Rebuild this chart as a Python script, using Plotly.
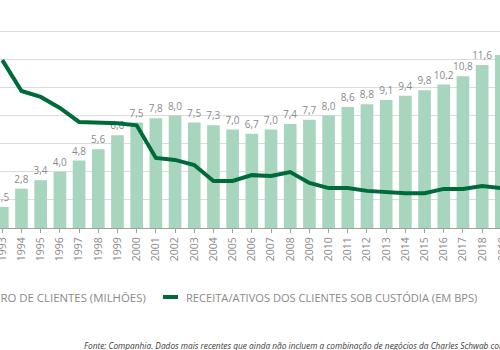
import plotly.graph_objects as go

years = list(range(1993, 2020))
clientes = [1.5, 2.8, 3.4, 4.0, 4.8, 5.6, 6.6, 7.5, 7.8, 8.0, 7.5, 7.3, 7.0, 6.7,
            7.0, 7.4, 7.7, 8.0, 8.6, 8.8, 9.1, 9.4, 9.8, 10.2, 10.8, 11.6, 12.3]
receita_bps = [59.7, 48.7, 46.6, 42.7, 37.7, 37.5, 37.2, 36.5, 24.9, 24.2, 22.4, 16.7,
               16.7, 18.8, 18.5, 19.9, 16.0, 14.2, 14.2, 13.2, 12.8, 12.4, 12.4, 13.9,
               13.9, 14.9, 14.2]
bar_labels = [f"{v:.1f}".replace(".", ",") for v in clientes]

BAR_COLOR = "#a8d5bd"
LINE_COLOR = "#006b3a"
GRAY = "#8a8a8a"

x_range = [1992.88, 2018.93]

fig = go.Figure()
fig.add_trace(go.Bar(
    x=years, y=clientes, name="NÚMERO DE CLIENTES (MILHÕES)",
    marker=dict(color=BAR_COLOR, line=dict(width=0)),
    width=0.66, text=bar_labels, textposition="outside",
    textfont=dict(family="Open Sans", size=10, color=GRAY),
    constraintext="none",
    cliponaxis=False,
))
fig.add_trace(go.Scatter(
    x=years, y=receita_bps, name="RECEITA/ATIVOS DOS CLIENTES SOB CUSTÓDIA (EM BPS)",
    mode="lines", line=dict(color=LINE_COLOR, width=4), yaxis="y2",
    cliponaxis=False,
))

fig.update_layout(
    width=500, height=350,
    margin=dict(l=0, r=0, t=3, b=122),
    paper_bgcolor="white", plot_bgcolor="white",
    showlegend=False,
    xaxis=dict(range=x_range, tickmode="array", tickvals=years,
               ticktext=[str(y) for y in years], tickangle=-90,
               tickfont=dict(family="Open Sans", size=10.5, color=GRAY),
               ticklabeloverflow="allow", automargin=False,
               showline=True, linecolor="#a0a0a0", linewidth=1,
               ticks="outside", ticklen=4, tickcolor="#a0a0a0",
               showgrid=False, zeroline=False),
    yaxis=dict(range=[0, 16], dtick=2, showticklabels=False, automargin=False,
               showgrid=True, gridcolor="#dcdcdc", gridwidth=1,
               zeroline=False, showline=False),
    yaxis2=dict(range=[0, 80], overlaying="y", side="right", automargin=False,
                showticklabels=False, showgrid=False, zeroline=False,
                showline=False),
    font=dict(family="Open Sans"),
)

# tick label of the last (partly cut) year, which lies just past the axis end
last_paper_x = (years[-1] - x_range[0]) / (x_range[1] - x_range[0])
fig.add_annotation(xref="paper", yref="paper", x=last_paper_x, y=-0.03,
                   text=str(years[-1]), textangle=-90, showarrow=False,
                   xanchor="center", yanchor="top",
                   font=dict(family="Open Sans", size=10.5, color=GRAY))

# legend
fig.add_annotation(xref="paper", yref="paper", x=148 / 500, y=1 - (297 - 3) / 225,
                   text="NÚMERO DE CLIENTES (MILHÕES)", showarrow=False,
                   xanchor="right", yanchor="middle",
                   font=dict(family="Open Sans", size=11.4, color=GRAY))
fig.add_shape(type="line", xref="paper", yref="paper",
              x0=163 / 500, x1=178 / 500,
              y0=1 - (297 - 3) / 225, y1=1 - (297 - 3) / 225,
              line=dict(color=LINE_COLOR, width=4))
fig.add_annotation(xref="paper", yref="paper", x=184 / 500, y=1 - (297 - 3) / 225,
                   text="RECEITA/ATIVOS DOS CLIENTES SOB CUSTÓDIA (EM BPS)",
                   showarrow=False, xanchor="left", yanchor="middle",
                   font=dict(family="Open Sans", size=11.1, color=GRAY))

# source note
fig.add_annotation(xref="paper", yref="paper", x=82 / 500, y=1 - (345 - 3) / 225,
                   text="<i>Fonte: Companhia. Dados mais recentes que ainda não incluem a combinação de negócios da Charles Schwab com a TD Ameritrade.</i>",
                   showarrow=False, xanchor="left", yanchor="middle",
                   font=dict(family="Open Sans", size=8.3, color="#3a3a3a"))

fig.write_html("out.html")
